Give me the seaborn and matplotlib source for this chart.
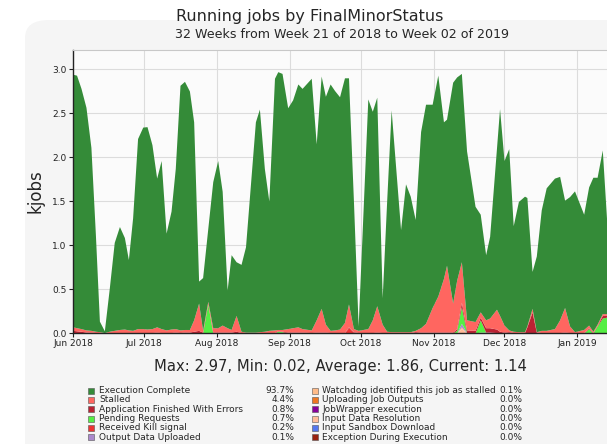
import numpy as np
import pandas as pd
import matplotlib
matplotlib.use("Agg")
import matplotlib.pyplot as plt
import matplotlib.dates as mdates
from matplotlib.patches import FancyBboxPatch, Rectangle
import seaborn as sns

# ---------------- data (days since 2018-06-01, values in kjobs) ----------------
start = pd.Timestamp("2018-06-01")
days = [0.0, 1.5, 3.4, 5.5, 7.6, 9.5, 11.2, 13.3, 15.4, 17.5, 19.7, 21.8, 23.5, 25.3,
        27.4, 29.6, 31.4, 33.5, 35.5, 37.4, 39.5, 41.6, 43.4, 45.4, 47.3, 49.4, 51.2,
        53.3, 55.0, 57.2, 59.3, 61.4, 63.3, 65.4, 67.1, 69.2, 71.3, 73.2, 75.3, 77.4,
        79.1, 81.2, 83.1, 85.5, 86.9, 88.7, 91.1, 93.2, 95.4, 97.2, 101.1, 103.2, 105.3,
        107.1, 109.1, 111.0, 113.1, 115.2, 116.9, 119.0, 121.0, 125.1, 127.0, 128.9,
        131.2, 133.1, 135.0, 139.0, 141.1, 143.1, 145.2, 147.5, 149.6, 152.4, 154.8,
        157.2, 158.5, 161.1, 162.8, 164.8, 167.0, 170.6, 172.8, 175.1, 176.8, 179.7,
        181.0, 182.9, 184.9, 186.8, 189.0, 191.6, 192.6, 194.8, 196.6, 198.7, 200.8,
        204.3, 206.5, 208.6, 210.7, 212.8, 216.7, 218.8, 220.6, 222.4, 224.6, 226.4]

execution_complete = [2.87, 2.87, 2.73, 2.53, 2.08, 1.10, 0.12, 0.02, 0.49, 1.00, 1.17,
        1.04, 0.80, 1.28, 2.16, 2.29, 2.30, 2.09, 1.69, 1.91, 1.10, 1.34, 1.82, 2.78,
        2.82, 2.71, 2.25, 0.25, 0.60, 0.83, 1.66, 1.90, 1.52, 0.43, 0.85, 0.61, 0.76,
        0.97, 1.68, 2.39, 2.53, 1.85, 1.47, 2.86, 2.93, 2.91, 2.51, 2.59, 2.76, 2.73,
        2.86, 2.00, 2.64, 2.59, 2.80, 2.72, 2.64, 2.78, 2.57, 1.45, 0.05, 2.61, 2.37,
        2.37, 0.30, 1.48, 2.52, 1.16, 1.68, 1.54, 1.26, 2.23, 2.49, 2.31, 2.51, 1.78,
        1.66, 2.51, 2.31, 2.14, 1.92, 1.31, 1.11, 0.74, 0.93, 1.83, 2.35, 1.87, 2.06,
        1.20, 1.48, 1.54, 1.46, 0.42, 0.86, 1.37, 1.62, 1.71, 1.63, 1.22, 1.47, 1.60,
        1.31, 1.57, 1.75, 1.67, 1.86, 1.08]

stalled = [0.04, 0.035, 0.03, 0.025, 0.02, 0.015, 0.01, 0.005, 0.015, 0.025, 0.035,
        0.04, 0.03, 0.025, 0.045, 0.045, 0.04, 0.045, 0.06, 0.045, 0.03, 0.04, 0.04,
        0.03, 0.03, 0.03, 0.13, 0.31, 0.02, 0.03, 0.05, 0.05, 0.08, 0.05, 0.03, 0.18,
        0.015, 0.01, 0.01, 0.01, 0.015, 0.015, 0.025, 0.03, 0.015, 0.02, 0.04, 0.05,
        0.06, 0.04, 0.03, 0.14, 0.27, 0.09, 0.025, 0.03, 0.04, 0.115, 0.26, 0.035,
        0.025, 0.045, 0.145, 0.30, 0.095, 0.015, 0.01, 0.01, 0.01, 0.01, 0.015, 0.05,
        0.10, 0.28, 0.41, 0.61, 0.76, 0.33, 0.55, 0.46, 0.115, 0.10, 0.06, 0.09, 0.11,
        0.225, 0.18, 0.08, 0.02, 0.015, 0.01, 0.01, 0.01, 0.04, 0.005, 0.025, 0.025,
        0.045, 0.145, 0.28, 0.075, 0.01, 0.035, 0.03, 0.015, 0.015, 0.02, 0.02]

app_errors = [0.03, 0.025, 0.02, 0.01, 0.01, 0.005, 0.005, 0.0, 0.005, 0.005, 0.005,
        0.005, 0.005, 0.005, 0.005, 0.005, 0.005, 0.005, 0.01, 0.005, 0.005, 0.005,
        0.01, 0.005, 0.01, 0.01, 0.02, 0.03, 0.01, 0.0, 0.01, 0.01, 0.01, 0.01, 0.01,
        0.02, 0.005, 0.0, 0.0, 0.0, 0.0, 0.005, 0.005, 0.005, 0.005, 0.005, 0.01, 0.01,
        0.01, 0.01, 0.005, 0.01, 0.01, 0.01, 0.005, 0.005, 0.005, 0.005, 0.01, 0.005,
        0.005, 0.005, 0.005, 0.01, 0.005, 0.005, 0.005, 0.005, 0.005, 0.005, 0.015,
        0.01, 0.01, 0.01, 0.01, 0.01, 0.01, 0.01, 0.02, 0.05, 0.03, 0.03, 0.03, 0.05,
        0.05, 0.04, 0.02, 0.01, 0.01, 0.005, 0.005, 0.005, 0.07, 0.24, 0.01, 0.005,
        0.005, 0.005, 0.005, 0.01, 0.005, 0.005, 0.005, 0.01, 0.005, 0.005, 0.03, 0.02]

pending_requests = {57.2: 0.33, 86.9: 0.02, 88.7: 0.015, 162.8: 0.03, 164.8: 0.19,
                    172.8: 0.14, 184.9: 0.005, 218.8: 0.05, 222.4: 0.08, 224.6: 0.17,
                    226.4: 0.18}
received_kill = {116.9: 0.06, 119.0: 0.01}
output_uploaded = {164.8: 0.04, 167.0: 0.005, 172.8: 0.01, 175.1: 0.01, 176.8: 0.01,
                   179.7: 0.005}
watchdog_stalled = {164.8: 0.02}
uploading_outputs = {}
jobwrapper_exec = {}
input_resolution = {164.8: 0.05}
sandbox_download = {}
exception_exec = {}

legend_labels = ["Execution Complete", "Stalled", "Application Finished With Errors",
                 "Pending Requests", "Received Kill signal", "Output Data Uploaded",
                 "Watchdog identified this job as stalled", "Uploading Job Outputs",
                 "JobWrapper execution", "Input Data Resolution",
                 "Input Sandbox Download", "Exception During Execution"]
legend_pct = ["93.7%", "4.4%", "0.8%", "0.7%", "0.2%", "0.1%",
              "0.1%", "0.0%", "0.0%", "0.0%", "0.0%", "0.0%"]
colors = ["#348b38", "#ff6660", "#bb2233", "#55ee44", "#ee3333", "#aa88cc",
          "#ffbb88", "#ee7722", "#880099", "#ffbb99", "#5577ee", "#992211"]
stats_text = "Max: 2.97, Min: 0.02, Average: 1.86, Current: 1.14"

# ---------------- build ----------------
def expand(pts):
    return [pts.get(d, 0.0) for d in days]

series = [execution_complete, stalled, app_errors, expand(pending_requests),
          expand(received_kill), expand(output_uploaded), expand(watchdog_stalled),
          expand(uploading_outputs), expand(jobwrapper_exec), expand(input_resolution),
          expand(sandbox_download), expand(exception_exec)]
dates = start + pd.to_timedelta(days, unit="D")

sns.set_style("whitegrid")
plt.rcParams["font.family"] = ["DejaVu Sans"]

W, H = 607, 444
fig = plt.figure(figsize=(W / 100, H / 100), dpi=100, facecolor="white")

# light panel behind everything
panel = FancyBboxPatch((25 / W, -0.05), 1.2, (H - 20) / H + 0.05,
                       boxstyle="round,pad=0,rounding_size=0.04",
                       transform=fig.transFigure, facecolor="#f5f5f5",
                       edgecolor="none", zorder=-10)
fig.patches.append(panel)

ax = fig.add_axes([73 / W, (H - 333) / H, (W - 73) / W, (333 - 50) / H])
ax.set_facecolor("#fbfbfb")

# stack bottom -> top is reversed legend order
order = list(range(len(series)))[::-1]
ax.stackplot(dates, *[series[i] for i in order],
             colors=[colors[i] for i in order], linewidth=0, zorder=2)

ax.set_xlim(start, start + pd.Timedelta(days=226.6))
ax.set_ylim(0, 3.216)
ax.set_yticks(np.arange(0, 3.01, 0.5))
ax.yaxis.set_major_formatter(matplotlib.ticker.FormatStrFormatter("%.1f"))
ax.xaxis.set_major_locator(mdates.MonthLocator())
ax.xaxis.set_major_formatter(mdates.DateFormatter("%b %Y"))
ax.tick_params(axis="both", labelsize=6.5, colors="#222222", length=3, width=0.8,
               pad=1.5, direction="out")
ax.tick_params(axis="x", bottom=True)
ax.tick_params(axis="y", left=True)
ax.grid(True, color="#dcdcdc", linewidth=0.8, zorder=0)
ax.set_axisbelow(True)
ax.spines["right"].set_visible(False)
ax.spines["top"].set_color("#c8c8c8")
ax.spines["top"].set_linewidth(0.8)
for s in ["left", "bottom"]:
    ax.spines[s].set_color("#222222")
    ax.spines[s].set_linewidth(1.0)
ax.set_ylabel("kjobs", fontsize=12, labelpad=6)

fig.text(310 / W, 1 - 16 / H, "Running jobs by FinalMinorStatus", ha="center",
         va="center", fontsize=11.5)
fig.text(342 / W, 1 - 35 / H, "32 Weeks from Week 21 of 2018 to Week 02 of 2019",
         ha="center", va="center", fontsize=9.1)
fig.text(340 / W, 1 - 366 / H, stats_text, ha="center", va="center", fontsize=10.6)

# legend (two columns, with percentages)
row_y = [390.5, 399.8, 409.2, 418.5, 427.8, 437.0]
cols = [(88, 99, 294), (312, 322, 522)]
for k, (lab, pct, col) in enumerate(zip(legend_labels, legend_pct, colors)):
    c = cols[k // 6]
    y = row_y[k % 6]
    fig.patches.append(Rectangle((c[0] / W, 1 - (y + 3) / H), 6 / W, 6 / H,
                                 transform=fig.transFigure, facecolor=col,
                                 edgecolor="#555555", linewidth=0.4))
    fig.text(c[1] / W, 1 - y / H, lab, ha="left", va="center", fontsize=6.5)
    fig.text(c[2] / W, 1 - y / H, pct, ha="right", va="center", fontsize=6.5)

fig.savefig("out.png", dpi=100, facecolor=fig.get_facecolor())
